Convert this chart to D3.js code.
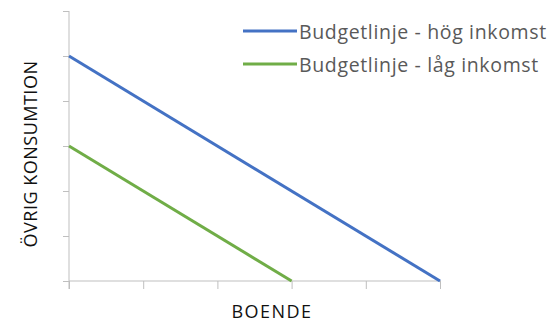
<!DOCTYPE html>
<html>
<head>
<meta charset="utf-8">
<script src="https://cdn.jsdelivr.net/npm/d3@7"></script>
<style>
  body { margin: 0; background: #fff; }
  text { font-family: "Open Sans", sans-serif; }
</style>
</head>
<body>
<svg id="chart" width="553" height="322"></svg>
<script>
const seriesNames = ["Budgetlinje - hög inkomst", "Budgetlinje - låg inkomst"];
const seriesColors = ["#4472C4", "#70AD47"];
const highIncome = [[0, 5], [5, 0]];
const lowIncome = [[0, 3], [3, 0]];
const xTicks = [0, 1, 2, 3, 4, 5];
const yTicks = [0, 1, 2, 3, 4, 5, 6];

const svg = d3.select("#chart");

const x = d3.scaleLinear().domain([0, 5]).range([69, 440]);
const y = d3.scaleLinear().domain([0, 6]).range([281, 11]);

// axes
const xAxis = d3.axisBottom(x).tickValues(xTicks).tickSize(8).tickFormat("");
const yAxis = d3.axisLeft(y).tickValues(yTicks).tickSize(6).tickFormat("");

svg.append("g")
   .attr("transform", "translate(0,281)")
   .call(xAxis)
   .call(g => g.select(".domain").attr("stroke", "#BFBFBF").attr("d", "M69,0H441"))
   .call(g => g.selectAll(".tick line").attr("stroke", "#BFBFBF"));

svg.append("g")
   .attr("transform", "translate(69,0)")
   .call(yAxis)
   .call(g => g.select(".domain").attr("stroke", "#BFBFBF").attr("d", "M0,11V289"))
   .call(g => g.selectAll(".tick line").attr("stroke", "#BFBFBF"));

// lines
const line = d3.line().x(d => x(d[0])).y(d => y(d[1]));
[highIncome, lowIncome].forEach((s, i) => {
  svg.append("path")
     .datum(s)
     .attr("d", line)
     .attr("fill", "none")
     .attr("stroke", seriesColors[i])
     .attr("stroke-width", 3);
});

// legend
const legend = svg.append("g");
seriesNames.forEach((name, i) => {
  const ly = 31 + i * 33;
  legend.append("line")
        .attr("x1", 243).attr("x2", 297)
        .attr("y1", ly).attr("y2", ly)
        .attr("stroke", seriesColors[i])
        .attr("stroke-width", 3);
  legend.append("text")
        .attr("x", 299).attr("y", ly + 8)
        .attr("font-size", 19.5)
        .attr("letter-spacing", 0.65)
        .attr("fill", "#595959")
        .text(name);
});

// axis titles
svg.append("text")
   .attr("x", 272).attr("y", 318)
   .attr("text-anchor", "middle")
   .attr("font-size", 18)
   .attr("letter-spacing", 1.5)
   .attr("fill", "#111")
   .text("BOENDE");

svg.append("text")
   .attr("transform", "translate(37,154) rotate(-90)")
   .attr("text-anchor", "middle")
   .attr("font-size", 18)
   .attr("letter-spacing", 0.5)
   .attr("fill", "#111")
   .text("ÖVRIG KONSUMTION");
</script>
</body>
</html>
